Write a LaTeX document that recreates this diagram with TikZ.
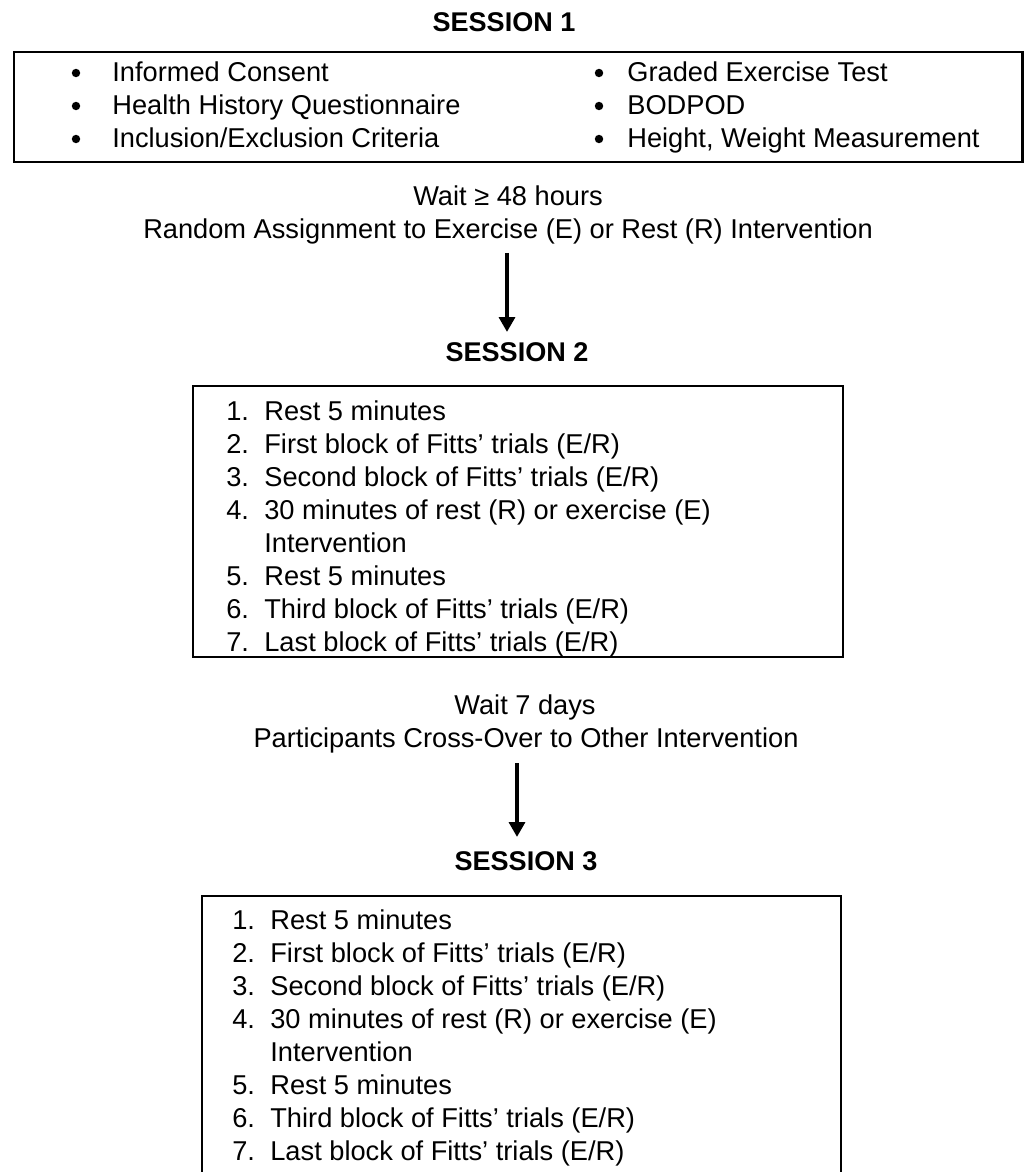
\documentclass[tikz,border=0pt]{standalone}
\usepackage{fontspec}
\setmainfont{Liberation Sans}
\usetikzlibrary{positioning, calc, arrows.meta}

\begin{document}
\begin{tikzpicture}[x=0.02cm, y=-0.02cm,
    heading/.style={font=\fontsize{15.4}{18}\selectfont\bfseries, inner sep=0pt,
      text height=14pt, text depth=2.8pt},
    txt/.style={font=\fontsize{15.5}{18}\selectfont, inner sep=0pt,
      text height=14pt, text depth=2.8pt},
    item/.style={txt, anchor=west},
    dot/.style={fill, circle, inner sep=0pt, minimum size=4.8pt},
    flow/.style={line width=2.4pt, -{Triangle[width=9pt,length=8.5pt]}}]
\useasboundingbox (0,0) rectangle (1028,1172);

% session 1
\node (s1) [heading] at (504,22) {SESSION 1};
\draw [line width=1.7pt] (14,52) rectangle (1022,162);
\foreach \bx/\tx/\row/\entry in {76/112/0/{Informed Consent},
    76/112/1/{Health History Questionnaire},
    76/112/2/{Inclusion/Exclusion Criteria},
    599/627/0/{Graded Exercise Test},
    599/627/1/{BODPOD},
    599/627/2/{Height, Weight Measurement}}
{
  \node (b\bx-\row) [dot] at (\bx,73+33*\row) {};
  \node (t\bx-\row) [item] at (\tx,72+33*\row) {\entry};
}

\node (wait1) [txt] at (508,196) {Wait ≥ 48 hours};
\node (assign) [txt] at (508,229) {Random Assignment to Exercise (E) or Rest (R) Intervention};
\coordinate (a1) at (507,253);
\coordinate (a1end) at (507,332);
\draw [flow] (a1) -- (a1end);

% session 2
\node (s2) [heading] at (517,352) {SESSION 2};
\draw [line width=1.2pt] (193,386) rectangle (843,657);
\foreach \num/\row/\entry in {1./0/{Rest 5 minutes},
    2./1/{First block of Fitts’ trials (E/R)},
    3./2/{Second block of Fitts’ trials (E/R)},
    4./3/{30 minutes of rest (R) or exercise (E)},
    5./5/{Rest 5 minutes},
    6./6/{Third block of Fitts’ trials (E/R)},
    7./7/{Last block of Fitts’ trials (E/R)}}
{
  \node (n2-\row) [item] at (226,411+33*\row) {\num};
  \node (i2-\row) [item] at (264,411+33*\row) {\entry};
}
\node (i2-4) [item] at (264,543) {Intervention};

\node (wait2) [txt] at (525,705) {Wait 7 days};
\node (cross) [txt] at (526,738) {Participants Cross-Over to Other Intervention};
\coordinate (a2) at (517,763);
\coordinate (a2end) at (517,837);
\draw [flow] (a2) -- (a2end);

% session 3
\node (s3) [heading] at (526,861) {SESSION 3};
\draw [line width=1.2pt] (202,1172) |- (841,896) -- (841,1172);
\foreach \num/\row/\entry in {1./0/{Rest 5 minutes},
    2./1/{First block of Fitts’ trials (E/R)},
    3./2/{Second block of Fitts’ trials (E/R)},
    4./3/{30 minutes of rest (R) or exercise (E)},
    5./5/{Rest 5 minutes},
    6./6/{Third block of Fitts’ trials (E/R)},
    7./7/{Last block of Fitts’ trials (E/R)}}
{
  \node (n3-\row) [item] at (232,920+33*\row) {\num};
  \node (i3-\row) [item] at (270,920+33*\row) {\entry};
}
\node (i3-4) [item] at (270,1052) {Intervention};
\end{tikzpicture}
\end{document}
